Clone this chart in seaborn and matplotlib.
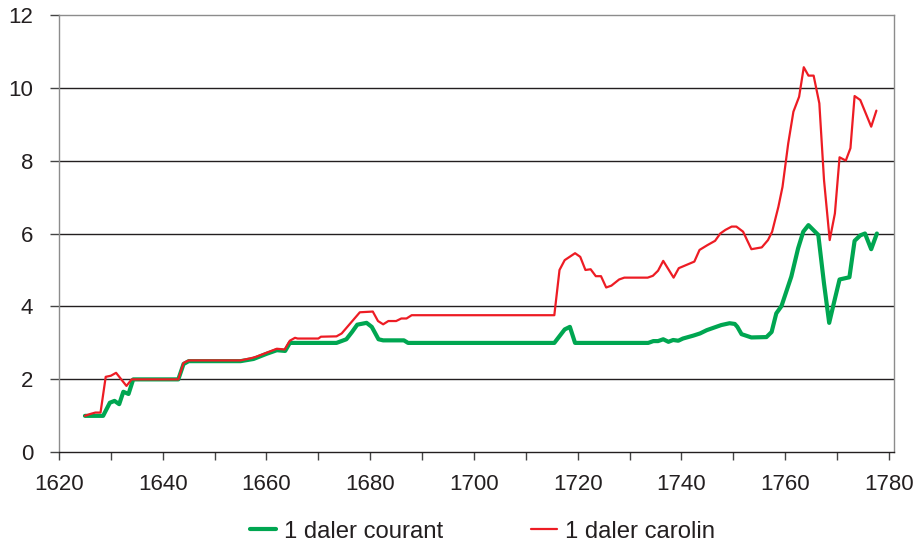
import matplotlib
matplotlib.use("Agg")
import matplotlib.pyplot as plt
import seaborn as sns
import pandas as pd
from matplotlib.lines import Line2D
from matplotlib.ticker import MultipleLocator

# ---- data ----
courant_years = [1625, 1628.5, 1629.8, 1630.7, 1631.6, 1632.4, 1633.4, 1634.3, 1643, 1644, 1645,
                 1655, 1657.5, 1660, 1662, 1663.6, 1664.5, 1673.5, 1675.4, 1676.5, 1677.5, 1679.3,
                 1680.3, 1681.6, 1682.5, 1686.5, 1687.3, 1715.5, 1717.5, 1718.5, 1719.5, 1733.6,
                 1734.6, 1735.5, 1736.5, 1737.5, 1738.4, 1739.4, 1740.3, 1742.3, 1743.6, 1744.9,
                 1746.5, 1747.7, 1749.3, 1750.3, 1750.8, 1751.6, 1753.5, 1756.4, 1757.4, 1758.3,
                 1759.3, 1761.2, 1762.5, 1763.5, 1764.5, 1766.4, 1767.5, 1768.5, 1769.4, 1770.5,
                 1772.4, 1773.4, 1774.5, 1775.4, 1776.6, 1777.7]
courant_values = [1.0, 1.0, 1.36, 1.41, 1.32, 1.66, 1.6, 2.0, 2.0, 2.42, 2.5,
                  2.5, 2.56, 2.7, 2.8, 2.78, 3.0, 3.0, 3.1, 3.3, 3.5, 3.55,
                  3.44, 3.1, 3.07, 3.07, 3.0, 3.0, 3.37, 3.44, 3.0, 3.0,
                  3.05, 3.05, 3.1, 3.03, 3.08, 3.06, 3.12, 3.2, 3.26, 3.35,
                  3.43, 3.49, 3.54, 3.52, 3.44, 3.24, 3.15, 3.16, 3.3, 3.81,
                  4.01, 4.82, 5.59, 6.05, 6.23, 5.96, 4.63, 3.55, 4.09, 4.74,
                  4.8, 5.8, 5.95, 6.0, 5.57, 6.0]

carolin_years = [1625, 1626, 1627, 1628, 1629, 1630, 1631, 1632, 1633, 1634, 1643, 1644, 1645,
                 1655, 1657, 1658, 1660, 1662, 1663.5, 1664.5, 1665.5, 1666, 1670, 1670.5, 1673.5,
                 1674.5, 1678, 1680.5, 1681.5, 1682.5, 1683.5, 1685, 1686, 1687, 1688, 1715.5,
                 1716.5, 1717.5, 1719.5, 1720.5, 1721.5, 1722.5, 1723.5, 1724.5, 1725.5, 1726.5,
                 1728, 1729, 1733.5, 1734.5, 1735.5, 1736.5, 1738.5, 1739.5, 1741, 1742.5, 1743.5,
                 1745, 1746.5, 1747.5, 1748.5, 1749.7, 1750.6, 1751.9, 1753.5, 1755.5, 1756.7,
                 1757.5, 1758.7, 1759.5, 1760.6, 1761.6, 1762.7, 1763.6, 1764.5, 1765.5, 1766.6,
                 1767.5, 1768.6, 1769.6, 1770.5, 1771.7, 1772.6, 1773.4, 1774.5, 1776.6, 1777.6]
carolin_values = [1.0, 1.05, 1.09, 1.09, 2.07, 2.1, 2.18, 2.0, 1.82, 2.0, 2.0, 2.45, 2.52,
                  2.52, 2.58, 2.62, 2.73, 2.84, 2.82, 3.06, 3.14, 3.12, 3.12, 3.17, 3.18,
                  3.26, 3.84, 3.86, 3.6, 3.51, 3.6, 3.6, 3.67, 3.67, 3.76, 3.76,
                  5.0, 5.27, 5.46, 5.36, 5.0, 5.02, 4.83, 4.83, 4.52, 4.57,
                  4.74, 4.79, 4.79, 4.84, 4.98, 5.25, 4.79, 5.05, 5.14, 5.23, 5.55,
                  5.68, 5.8, 6.0, 6.1, 6.19, 6.19, 6.05, 5.57, 5.62, 5.82,
                  6.05, 6.73, 7.28, 8.47, 9.34, 9.75, 10.56, 10.33, 10.33, 9.57,
                  7.47, 5.82, 6.55, 8.09, 8.0, 8.34, 9.77, 9.66, 8.93, 9.37]

series_labels = ["1 daler courant", "1 daler carolin"]
y_ticks = [0, 2, 4, 6, 8, 10, 12]
x_ticks = [1620, 1640, 1660, 1680, 1700, 1720, 1740, 1760, 1780]

GREEN = "#00A651"
RED = "#ED1C24"

sns.set_theme(style="white")
plt.rcParams["font.family"] = ["Liberation Sans", "DejaVu Sans"]

df_c = pd.DataFrame({"year": courant_years, "value": courant_values})
df_r = pd.DataFrame({"year": carolin_years, "value": carolin_values})

fig = plt.figure(figsize=(9.21, 5.47), dpi=100)
ax = fig.add_axes([0.0641, 0.1731, 0.9066, 0.80])

for yv in y_ticks[1:-1]:
    ax.axhline(yv, color="#231F20", lw=1.0, zorder=1)

sns.lineplot(data=df_c, x="year", y="value", ax=ax, color=GREEN, lw=3.0,
             estimator=None, sort=False, zorder=3)
sns.lineplot(data=df_r, x="year", y="value", ax=ax, color=RED, lw=1.6,
             estimator=None, sort=False, zorder=4)

ax.set_xlim(1620, 1781)
ax.set_ylim(0, 12)
ax.set_xticks(x_ticks)
ax.xaxis.set_minor_locator(MultipleLocator(10))
ax.set_yticks(y_ticks)
ax.set_xlabel("")
ax.set_ylabel("")

for s in ["top", "right", "left"]:
    ax.spines[s].set_color("#8C8C8C")
    ax.spines[s].set_linewidth(1.0)
ax.spines["bottom"].set_color("#231F20")
ax.spines["bottom"].set_linewidth(1.0)

ax.tick_params(axis="x", which="both", direction="out", length=5.8, width=1.0,
               color="#444444", labelsize=16, labelcolor="#231F20", pad=10, bottom=True)
ax.tick_params(axis="y", which="major", direction="out", length=6.5, width=1.0,
               color="#444444", labelsize=16, labelcolor="#231F20", pad=12, left=True)

handles = [Line2D([0], [0], color=GREEN, lw=3.0), Line2D([0], [0], color=RED, lw=1.6)]
fig.legend(handles, series_labels, loc="center", bbox_to_anchor=(0.524, 0.028), ncol=2,
           frameon=False, fontsize=17.2, handlelength=1.1, handletextpad=0.34,
           columnspacing=3.65, labelcolor="#231F20", borderpad=0.0)

fig.savefig("out.png", dpi=100)
